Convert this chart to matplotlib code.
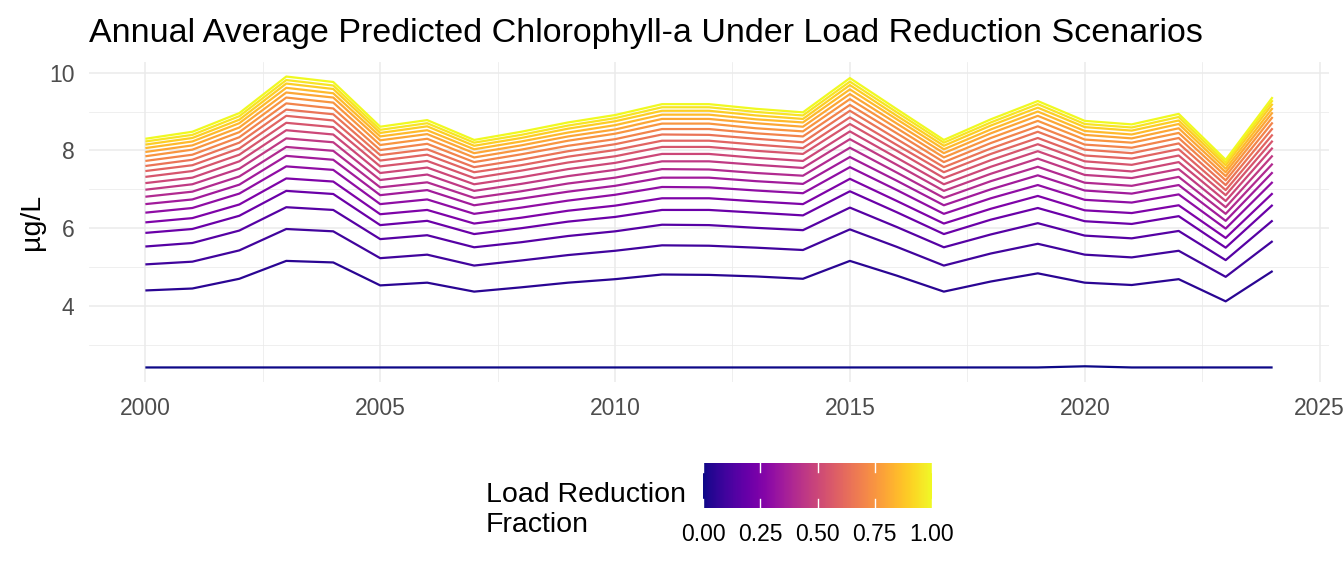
import numpy as np
import matplotlib
matplotlib.use("Agg")
import matplotlib.pyplot as plt
from matplotlib.ticker import MultipleLocator

plt.rcParams['font.family'] = ['Liberation Sans', 'DejaVu Sans']

years = list(range(2000, 2025))
fractions = [0.00, 0.05, 0.10, 0.15, 0.20, 0.25, 0.30, 0.35, 0.40, 0.45, 0.50,
             0.55, 0.60, 0.65, 0.70, 0.75, 0.80, 0.85, 0.90, 0.95, 1.00]
legend_ticks = [0.00, 0.25, 0.50, 0.75, 1.00]

# annual average chl-a (ug/L), one list per load reduction fraction
chl_000 = [2.42, 2.42, 2.42, 2.42, 2.42, 2.42, 2.42, 2.42, 2.42, 2.42, 2.42, 2.42, 2.42,
           2.42, 2.42, 2.42, 2.42, 2.42, 2.42, 2.42, 2.45, 2.42, 2.42, 2.42, 2.42]
chl_005 = [4.40, 4.45, 4.70, 5.16, 5.12, 4.53, 4.60, 4.37, 4.48, 4.60, 4.69, 4.81, 4.80,
           4.76, 4.70, 5.16, 4.78, 4.37, 4.63, 4.84, 4.60, 4.54, 4.69, 4.12, 4.90]
chl_010 = [5.07, 5.14, 5.43, 5.98, 5.92, 5.23, 5.32, 5.04, 5.17, 5.31, 5.42, 5.56, 5.55,
           5.50, 5.44, 5.97, 5.52, 5.04, 5.35, 5.60, 5.32, 5.25, 5.42, 4.75, 5.67]
chl_015 = [5.53, 5.62, 5.94, 6.54, 6.47, 5.72, 5.82, 5.51, 5.64, 5.80, 5.92, 6.09, 6.08,
           6.01, 5.95, 6.53, 6.03, 5.51, 5.84, 6.13, 5.81, 5.74, 5.93, 5.18, 6.20]
chl_020 = [5.88, 5.98, 6.32, 6.96, 6.88, 6.08, 6.19, 5.85, 6.00, 6.17, 6.29, 6.47, 6.47,
           6.40, 6.33, 6.95, 6.41, 5.85, 6.22, 6.52, 6.18, 6.11, 6.31, 5.50, 6.60]
chl_025 = [6.15, 6.26, 6.61, 7.28, 7.20, 6.36, 6.47, 6.12, 6.27, 6.45, 6.58, 6.77, 6.77,
           6.69, 6.62, 7.27, 6.70, 6.12, 6.50, 6.83, 6.46, 6.39, 6.59, 5.75, 6.90]
chl_030 = [6.40, 6.52, 6.89, 7.59, 7.50, 6.62, 6.74, 6.37, 6.53, 6.71, 6.86, 7.06, 7.05,
           6.97, 6.90, 7.57, 6.98, 6.37, 6.77, 7.11, 6.73, 6.66, 6.87, 5.99, 7.19]
chl_035 = [6.62, 6.74, 7.12, 7.86, 7.76, 6.85, 6.98, 6.59, 6.76, 6.94, 7.09, 7.30, 7.30,
           7.21, 7.14, 7.83, 7.22, 6.59, 7.00, 7.36, 6.97, 6.89, 7.11, 6.19, 7.44]
chl_040 = [6.81, 6.94, 7.33, 8.09, 7.99, 7.05, 7.18, 6.78, 6.95, 7.15, 7.30, 7.52, 7.51,
           7.42, 7.35, 8.07, 7.43, 6.78, 7.21, 7.58, 7.17, 7.09, 7.32, 6.37, 7.66]
chl_045 = [6.99, 7.13, 7.53, 8.31, 8.21, 7.24, 7.38, 6.96, 7.14, 7.34, 7.50, 7.72, 7.72,
           7.63, 7.55, 8.29, 7.63, 6.96, 7.40, 7.79, 7.37, 7.29, 7.52, 6.54, 7.87]
chl_050 = [7.16, 7.30, 7.72, 8.52, 8.41, 7.42, 7.56, 7.13, 7.31, 7.52, 7.68, 7.91, 7.91,
           7.81, 7.73, 8.49, 7.81, 7.13, 7.58, 7.98, 7.55, 7.46, 7.70, 6.70, 8.07]
chl_055 = [7.32, 7.47, 7.89, 8.71, 8.60, 7.59, 7.73, 7.29, 7.48, 7.69, 7.85, 8.09, 8.09,
           7.99, 7.91, 8.68, 7.99, 7.29, 7.75, 8.16, 7.72, 7.63, 7.87, 6.85, 8.25]
chl_060 = [7.47, 7.62, 8.05, 8.89, 8.77, 7.74, 7.89, 7.44, 7.62, 7.84, 8.01, 8.25, 8.25,
           8.15, 8.06, 8.85, 8.14, 7.44, 7.91, 8.32, 7.87, 7.79, 8.03, 6.98, 8.41]
chl_065 = [7.60, 7.76, 8.20, 9.05, 8.93, 7.88, 8.03, 7.57, 7.76, 7.98, 8.16, 8.41, 8.40,
           8.30, 8.21, 9.02, 8.29, 7.57, 8.05, 8.48, 8.02, 7.93, 8.18, 7.11, 8.57]
chl_070 = [7.73, 7.89, 8.34, 9.21, 9.08, 8.01, 8.17, 7.70, 7.90, 8.12, 8.29, 8.55, 8.55,
           8.44, 8.36, 9.17, 8.44, 7.70, 8.19, 8.62, 8.15, 8.07, 8.32, 7.23, 8.72]
chl_075 = [7.85, 8.02, 8.47, 9.36, 9.23, 8.14, 8.30, 7.82, 8.02, 8.25, 8.43, 8.69, 8.69,
           8.57, 8.49, 9.32, 8.57, 7.82, 8.32, 8.76, 8.28, 8.20, 8.45, 7.34, 8.86]
chl_080 = [7.96, 8.13, 8.59, 9.49, 9.36, 8.26, 8.42, 7.93, 8.13, 8.36, 8.54, 8.81, 8.81,
           8.70, 8.61, 9.45, 8.69, 7.93, 8.44, 8.89, 8.40, 8.31, 8.57, 7.44, 8.98]
chl_085 = [8.06, 8.23, 8.70, 9.61, 9.47, 8.36, 8.52, 8.03, 8.23, 8.46, 8.65, 8.92, 8.92,
           8.80, 8.72, 9.57, 8.80, 8.03, 8.54, 9.00, 8.50, 8.41, 8.68, 7.53, 9.09]
chl_090 = [8.15, 8.32, 8.79, 9.72, 9.58, 8.45, 8.62, 8.12, 8.32, 8.56, 8.75, 9.02, 9.02,
           8.90, 8.81, 9.68, 8.89, 8.12, 8.64, 9.10, 8.60, 8.51, 8.77, 7.62, 9.20]
chl_095 = [8.23, 8.40, 8.88, 9.81, 9.67, 8.53, 8.70, 8.20, 8.40, 8.64, 8.83, 9.11, 9.11,
           8.99, 8.90, 9.77, 8.98, 8.20, 8.72, 9.19, 8.68, 8.59, 8.86, 7.69, 9.29]
chl_100 = [8.30, 8.48, 8.96, 9.90, 9.76, 8.61, 8.78, 8.27, 8.48, 8.72, 8.91, 9.19, 9.19,
           9.07, 8.98, 9.86, 9.06, 8.27, 8.80, 9.27, 8.76, 8.67, 8.94, 7.76, 9.37]

series = [chl_000, chl_005, chl_010, chl_015, chl_020, chl_025, chl_030, chl_035,
          chl_040, chl_045, chl_050, chl_055, chl_060, chl_065, chl_070, chl_075,
          chl_080, chl_085, chl_090, chl_095, chl_100]

W, H = 1344, 576
fig = plt.figure(figsize=(W / 100, H / 100), dpi=100)
ax = fig.add_axes([89 / W, 1 - 382 / H, (1329 - 89) / W, (382 - 62) / H])

cmap = plt.get_cmap('plasma')
norm = plt.Normalize(0, 1)
for frac, vals in zip(fractions, series):
    ax.plot(years, vals, color=cmap(norm(frac)), linewidth=1.6, solid_capstyle='butt', zorder=3)

# ggplot-style expansion
ymin = min(min(s) for s in series)
ymax = max(max(s) for s in series)
ax.set_xlim(2000 - 1.2, 2024 + 1.2)
ax.set_ylim(ymin - 0.05 * (ymax - ymin), ymax + 0.05 * (ymax - ymin))

ax.xaxis.set_major_locator(MultipleLocator(5))
ax.xaxis.set_minor_locator(MultipleLocator(2.5))
ax.yaxis.set_major_locator(MultipleLocator(2))
ax.yaxis.set_minor_locator(MultipleLocator(1))
ax.grid(which='major', color='#EBEBEB', linewidth=1.1)
ax.grid(which='minor', color='#EBEBEB', linewidth=0.55)
ax.set_axisbelow(True)
for sp in ax.spines.values():
    sp.set_visible(False)
ax.tick_params(which='both', length=0)
ax.tick_params(axis='both', labelsize=16.5, labelcolor='#4D4D4D', pad=10.5)

fig.text(89 / W, 1 - 42 / H, 'Annual Average Predicted Chlorophyll-a Under Load Reduction Scenarios',
         fontsize=24.5, ha='left', va='baseline', color='black')
fig.text(32 / W, 1 - 222 / H, 'µg/L', rotation=90, fontsize=20.5, ha='center', va='center')

# colourbar legend
cax = fig.add_axes([703 / W, 1 - 508 / H, (932 - 703) / W, (508 - 463) / H])
sm = matplotlib.cm.ScalarMappable(norm=norm, cmap=cmap)
cb = fig.colorbar(sm, cax=cax, orientation='horizontal')
cb.outline.set_visible(False)
cb.set_ticks(legend_ticks)
cb.set_ticklabels([f'{t:.2f}' for t in legend_ticks])
cax.tick_params(axis='x', which='both', length=0, labelsize=16.5, labelcolor='black', pad=11)
# white tick marks at top and bottom edge of the bar
for t in legend_ticks:
    cax.axvline(t, ymin=0, ymax=0.2, color='white', linewidth=1)
    cax.axvline(t, ymin=0.8, ymax=1, color='white', linewidth=1)
fig.text(486 / W, 1 - 510 / H, 'Load Reduction\nFraction', fontsize=20.5,
         ha='left', va='center', linespacing=1.15)

fig.savefig('out.png', dpi=100)
